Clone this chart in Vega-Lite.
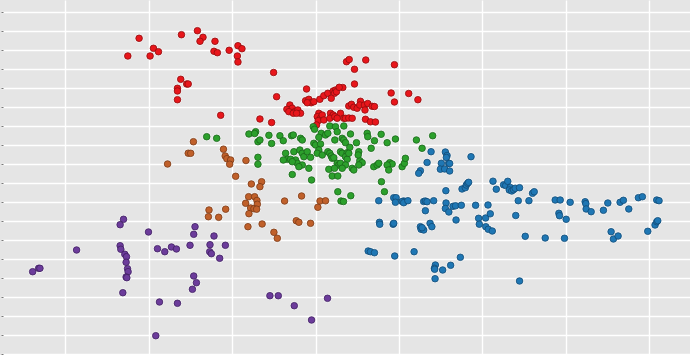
{
"$schema":"https://vega.github.io/schema/vega-lite/v6.json",
"width":690,"height":355,"padding":0,
"autosize":{"type":"fit","contains":"padding"},
"background":"#E5E5E5",
"config":{"view":{"stroke":null,"fill":"#E5E5E5"}},
"data":{"values":[
{"g":"A","x":138.3,"y":38.3},{"g":"A","x":180.7,"y":34.7},{"g":"A","x":196.7,"y":30.7},{"g":"A","x":202.3,"y":37.3},{"g":"A","x":199.3,"y":41.3},{"g":"A","x":214.3,"y":41.3},{"g":"A","x":152.7,"y":48.3},{"g":"A","x":157.7,"y":51.7},{"g":"A","x":127,"y":56},{"g":"A","x":149.3,"y":56},{"g":"A","x":213.3,"y":51.3},{"g":"A","x":216.7,"y":52.7},{"g":"A","x":228.5,"y":50.3},{"g":"A","x":237.3,"y":45.7},{"g":"A","x":241.3,"y":48.7},{"g":"A","x":236.7,"y":56},{"g":"A","x":237.3,"y":62},{"g":"A","x":180,"y":79.3},{"g":"A","x":186,"y":84},{"g":"A","x":187.5,"y":84},{"g":"A","x":176.7,"y":88.3},{"g":"A","x":176.7,"y":91},{"g":"A","x":176.7,"y":99.7},{"g":"A","x":220,"y":115.3},{"g":"A","x":273,"y":72.5},{"g":"A","x":276,"y":96.7},{"g":"A","x":259.3,"y":119},{"g":"A","x":271,"y":122.5},{"g":"A","x":306,"y":89},{"g":"A","x":346,"y":61.7},{"g":"A","x":348.7,"y":59.5},{"g":"A","x":365.3,"y":60},{"g":"A","x":354,"y":69.3},{"g":"A","x":394,"y":64.7},{"g":"A","x":354,"y":84},{"g":"A","x":342.3,"y":87.5},{"g":"A","x":390.7,"y":93},{"g":"A","x":394,"y":102},{"g":"A","x":408.3,"y":93.5},{"g":"A","x":417.5,"y":99.7},
{"g":"A","x":289.3,"y":105},{"g":"A","x":286.3,"y":109.3},{"g":"A","x":291.7,"y":108.3},{"g":"A","x":294.3,"y":111.7},{"g":"A","x":297.3,"y":110},{"g":"A","x":300,"y":113.3},{"g":"A","x":288.3,"y":111.7},{"g":"A","x":292.7,"y":113.3},{"g":"A","x":296,"y":113.3},
{"g":"A","x":305,"y":100.7},{"g":"A","x":308.3,"y":99.3},{"g":"A","x":310.7,"y":102.7},{"g":"A","x":306.7,"y":102.7},{"g":"A","x":313.3,"y":101.7},{"g":"A","x":319.3,"y":99.3},{"g":"A","x":323.3,"y":95.7},{"g":"A","x":327.3,"y":93.3},{"g":"A","x":332.7,"y":91},{"g":"A","x":335,"y":90},{"g":"A","x":334,"y":93.3},{"g":"A","x":336,"y":91.7},{"g":"A","x":330.7,"y":98.3},{"g":"A","x":338.7,"y":87.3},
{"g":"A","x":318.3,"y":113.3},{"g":"A","x":316.7,"y":116.7},{"g":"A","x":320,"y":118.3},{"g":"A","x":317.7,"y":120.7},{"g":"A","x":321.7,"y":115},{"g":"A","x":316,"y":125},{"g":"A","x":323.3,"y":120},{"g":"A","x":330,"y":113.3},{"g":"A","x":332.7,"y":115},{"g":"A","x":329.3,"y":118.3},{"g":"A","x":334.3,"y":116.7},{"g":"A","x":340,"y":113.3},{"g":"A","x":336.7,"y":118.3},{"g":"A","x":343.3,"y":118.3},
{"g":"A","x":348.3,"y":106},{"g":"A","x":351,"y":104.3},{"g":"A","x":353.3,"y":107.3},{"g":"A","x":356.7,"y":108.3},{"g":"A","x":360,"y":101.3},{"g":"A","x":359.3,"y":105},{"g":"A","x":364,"y":105},{"g":"A","x":367.3,"y":103.5},{"g":"A","x":371.7,"y":106.3},{"g":"A","x":374,"y":106.5},{"g":"A","x":364.5,"y":110},{"g":"A","x":345,"y":118.3},{"g":"A","x":348.3,"y":118},{"g":"A","x":351.7,"y":118.3},{"g":"A","x":365,"y":119.3},{"g":"A","x":370,"y":121.8},{"g":"A","x":375,"y":122},
{"g":"B","x":206,"y":136.7},{"g":"B","x":216,"y":138.3},{"g":"B","x":248.3,"y":134},{"g":"B","x":255,"y":131.7},{"g":"B","x":254,"y":133.5},{"g":"B","x":257.3,"y":141.7},{"g":"B","x":259.3,"y":140},{"g":"B","x":268.3,"y":135.3},{"g":"B","x":271,"y":143.5},{"g":"B","x":279.3,"y":135.7},{"g":"B","x":282.7,"y":140.7},{"g":"B","x":291,"y":135.7},{"g":"B","x":292.7,"y":135},{"g":"B","x":300,"y":138.3},{"g":"B","x":301.7,"y":140},
{"g":"B","x":312.7,"y":126.7},{"g":"B","x":314,"y":129.3},{"g":"B","x":320.7,"y":133.3},{"g":"B","x":329.3,"y":126},{"g":"B","x":335,"y":126.7},{"g":"B","x":325,"y":135},{"g":"B","x":327.3,"y":133.3},{"g":"B","x":318.3,"y":137.3},{"g":"B","x":336.7,"y":131.7},{"g":"B","x":343.3,"y":126},{"g":"B","x":341.7,"y":138.3},{"g":"B","x":343.3,"y":140},{"g":"B","x":334.3,"y":140},
{"g":"B","x":313.3,"y":143.3},{"g":"B","x":315,"y":145},{"g":"B","x":320,"y":144},{"g":"B","x":318.3,"y":150},{"g":"B","x":316.7,"y":153.3},{"g":"B","x":321.7,"y":155},{"g":"B","x":327.3,"y":151.7},{"g":"B","x":329.3,"y":153.3},{"g":"B","x":330.7,"y":156},{"g":"B","x":340,"y":151.7},{"g":"B","x":341.7,"y":153.3},{"g":"B","x":346.7,"y":152.7},{"g":"B","x":331.7,"y":158.3},{"g":"B","x":333.3,"y":157.7},{"g":"B","x":328.3,"y":169.3},{"g":"B","x":336.7,"y":163.3},{"g":"B","x":338.3,"y":165},{"g":"B","x":340,"y":163.3},{"g":"B","x":334,"y":168.3},{"g":"B","x":331.7,"y":176},{"g":"B","x":337.3,"y":176},{"g":"B","x":345,"y":156.7},{"g":"B","x":346.7,"y":159.3},
{"g":"B","x":285,"y":153.3},{"g":"B","x":286.7,"y":159.3},{"g":"B","x":282.7,"y":160},{"g":"B","x":293.3,"y":151.7},{"g":"B","x":295,"y":160},{"g":"B","x":296.7,"y":163.3},{"g":"B","x":290,"y":159.3},{"g":"B","x":291.7,"y":161.7},{"g":"B","x":299.3,"y":150},{"g":"B","x":301.7,"y":153.3},{"g":"B","x":303.3,"y":156.7},{"g":"B","x":306.7,"y":151.7},{"g":"B","x":310,"y":157.3},{"g":"B","x":301.7,"y":165},{"g":"B","x":298.3,"y":166.7},{"g":"B","x":308.3,"y":168.3},{"g":"B","x":291.7,"y":174.5},{"g":"B","x":311,"y":180},
{"g":"B","x":257.3,"y":157.3},{"g":"B","x":257.3,"y":164.2},{"g":"B","x":337.3,"y":191.7},{"g":"B","x":340.5,"y":201},{"g":"B","x":343,"y":201.5},{"g":"B","x":350.3,"y":195.7},
{"g":"B","x":345,"y":142.7},{"g":"B","x":350,"y":134},{"g":"B","x":356,"y":142.7},{"g":"B","x":349.3,"y":147.3},{"g":"B","x":348.3,"y":153.3},{"g":"B","x":358.3,"y":151.7},{"g":"B","x":366.7,"y":133.3},{"g":"B","x":367.3,"y":136.7},{"g":"B","x":374,"y":140.7},{"g":"B","x":380.7,"y":134.3},{"g":"B","x":386.7,"y":142.7},{"g":"B","x":395,"y":139},{"g":"B","x":370.7,"y":148.3},{"g":"B","x":359.3,"y":160.7},{"g":"B","x":361.7,"y":162.7},{"g":"B","x":358.3,"y":165},{"g":"B","x":351.7,"y":168.3},{"g":"B","x":353.3,"y":170},{"g":"B","x":345,"y":165},{"g":"B","x":341.7,"y":168.3},{"g":"B","x":373.3,"y":166.7},{"g":"B","x":376.7,"y":165},{"g":"B","x":378.3,"y":163.3},{"g":"B","x":389.3,"y":162.7},{"g":"B","x":391.7,"y":164},{"g":"B","x":386.7,"y":165},{"g":"B","x":388.3,"y":170},{"g":"B","x":401.7,"y":166.7},{"g":"B","x":404,"y":163.3},{"g":"B","x":405,"y":158.3},{"g":"B","x":416,"y":140},{"g":"B","x":421.7,"y":148.3},{"g":"B","x":432.3,"y":135.7},{"g":"B","x":381,"y":181.7},{"g":"B","x":384,"y":191.7},{"g":"B","x":357.7,"y":155},
{"g":"C","x":192.7,"y":141.7},{"g":"C","x":187.5,"y":153.2},{"g":"C","x":190,"y":153.3},{"g":"C","x":166.8,"y":164},{"g":"C","x":222.8,"y":149.2},{"g":"C","x":224.5,"y":156},{"g":"C","x":226.2,"y":158.7},{"g":"C","x":230,"y":160},{"g":"C","x":229,"y":164.2},{"g":"C","x":235,"y":176.3},{"g":"C","x":245.3,"y":160.5},{"g":"C","x":250.7,"y":184},{"g":"C","x":261,"y":181.7},{"g":"C","x":259.3,"y":186.7},{"g":"C","x":248,"y":196.7},{"g":"C","x":254,"y":196.7},{"g":"C","x":245,"y":203.3},{"g":"C","x":256.3,"y":200.5},{"g":"C","x":256.7,"y":204.3},{"g":"C","x":250,"y":208},{"g":"C","x":253.3,"y":208.7},{"g":"C","x":256,"y":209.2},{"g":"C","x":248.3,"y":213.7},{"g":"C","x":208.3,"y":210},{"g":"C","x":225,"y":209.2},{"g":"C","x":207.7,"y":216.7},{"g":"C","x":218,"y":217.3},{"g":"C","x":247.3,"y":226.7},{"g":"C","x":261.5,"y":224},{"g":"C","x":284,"y":201},{"g":"C","x":301,"y":196},{"g":"C","x":317.3,"y":207.3},{"g":"C","x":319.5,"y":201},{"g":"C","x":325,"y":200.8},{"g":"C","x":295.7,"y":220.7},{"g":"C","x":298.3,"y":222.3},{"g":"C","x":310,"y":223.3},{"g":"C","x":273.3,"y":232.3},{"g":"C","x":276.7,"y":238.3},
{"g":"D","x":31.7,"y":271.7},{"g":"D","x":37.7,"y":268.3},{"g":"D","x":39,"y":268.3},{"g":"D","x":75.7,"y":250},{"g":"D","x":122.7,"y":219.3},{"g":"D","x":119.3,"y":224.7},{"g":"D","x":119.3,"y":245.7},{"g":"D","x":120,"y":249.3},{"g":"D","x":124,"y":254.3},{"g":"D","x":125.7,"y":256.7},{"g":"D","x":125.3,"y":262.3},{"g":"D","x":126.7,"y":268.7},{"g":"D","x":127.3,"y":271.7},{"g":"D","x":125.3,"y":277},{"g":"D","x":126,"y":277.7},{"g":"D","x":122,"y":292.7},{"g":"D","x":147.7,"y":232},{"g":"D","x":156.7,"y":248.7},{"g":"D","x":164,"y":251.7},{"g":"D","x":170.7,"y":247},{"g":"D","x":175.7,"y":249},{"g":"D","x":189.3,"y":245.3},{"g":"D","x":194.3,"y":226.7},{"g":"D","x":193,"y":234.3},{"g":"D","x":213.3,"y":236},{"g":"D","x":209.3,"y":244.7},{"g":"D","x":224.7,"y":245.3},{"g":"D","x":209,"y":251.7},{"g":"D","x":210.7,"y":253.7},{"g":"D","x":219,"y":258.3},{"g":"D","x":193,"y":276},{"g":"D","x":195.7,"y":282.7},{"g":"D","x":191.7,"y":289.3},{"g":"D","x":158.7,"y":302},{"g":"D","x":176.7,"y":303.3},{"g":"D","x":155,"y":335.7},{"g":"D","x":269.3,"y":295.7},{"g":"D","x":277.7,"y":295.7},{"g":"D","x":293.7,"y":305.7},{"g":"D","x":327,"y":298.3},{"g":"D","x":311,"y":320},
{"g":"E","x":430.7,"y":151.7},{"g":"E","x":445,"y":152},{"g":"E","x":446.7,"y":155.5},{"g":"E","x":446,"y":157.5},{"g":"E","x":470.7,"y":156.7},{"g":"E","x":426.7,"y":162.5},{"g":"E","x":441,"y":163.3},{"g":"E","x":448.3,"y":163.3},{"g":"E","x":449.3,"y":163.5},{"g":"E","x":420,"y":170.7},{"g":"E","x":418.3,"y":173.3},{"g":"E","x":440,"y":169.2},{"g":"E","x":444.3,"y":169},{"g":"E","x":449.3,"y":171},
{"g":"E","x":378.3,"y":200.7},{"g":"E","x":393.3,"y":197.7},{"g":"E","x":395.7,"y":197.7},{"g":"E","x":395,"y":202.3},{"g":"E","x":403.3,"y":201},{"g":"E","x":401.7,"y":201.5},{"g":"E","x":403.3,"y":202.7},{"g":"E","x":407.5,"y":200.7},{"g":"E","x":423.3,"y":201.5},{"g":"E","x":425,"y":201},{"g":"E","x":426.7,"y":201.7},{"g":"E","x":433.3,"y":200.7},{"g":"E","x":445.5,"y":190.7},{"g":"E","x":445.7,"y":203},{"g":"E","x":445,"y":208.5},{"g":"E","x":448.5,"y":212},{"g":"E","x":452.7,"y":206.3},{"g":"E","x":455.2,"y":205.8},{"g":"E","x":461,"y":205.3},{"g":"E","x":425,"y":210.7},{"g":"E","x":455.7,"y":220},
{"g":"E","x":379,"y":222.3},{"g":"E","x":379.3,"y":224.3},{"g":"E","x":392.7,"y":224.3},{"g":"E","x":393.3,"y":223.3},{"g":"E","x":420,"y":226.7},{"g":"E","x":420.7,"y":229.3},{"g":"E","x":423.3,"y":230},{"g":"E","x":421.7,"y":227.7},{"g":"E","x":429.7,"y":223.3},{"g":"E","x":431.5,"y":226.7},
{"g":"E","x":367.7,"y":251},{"g":"E","x":370,"y":251.7},{"g":"E","x":374,"y":252.7},{"g":"E","x":394.3,"y":256},{"g":"E","x":413.7,"y":251.7},{"g":"E","x":435,"y":265},{"g":"E","x":434,"y":268.3},{"g":"E","x":434.3,"y":269.3},{"g":"E","x":442.3,"y":270},{"g":"E","x":450.3,"y":265.3},{"g":"E","x":434.7,"y":278.7},{"g":"E","x":460,"y":257.3},
{"g":"E","x":461.7,"y":189},{"g":"E","x":465,"y":187.7},{"g":"E","x":466,"y":185},{"g":"E","x":467.3,"y":183.3},{"g":"E","x":468.3,"y":182.3},{"g":"E","x":492.7,"y":181.2},{"g":"E","x":496,"y":189.2},{"g":"E","x":503.3,"y":184.8},{"g":"E","x":505.5,"y":185.5},{"g":"E","x":507.5,"y":181.3},{"g":"E","x":510,"y":187.5},{"g":"E","x":509,"y":190},{"g":"E","x":511.5,"y":191},{"g":"E","x":513.3,"y":189.7},{"g":"E","x":515,"y":188.3},{"g":"E","x":519.3,"y":187.7},{"g":"E","x":532.3,"y":193.3},{"g":"E","x":534,"y":191.7},
{"g":"E","x":475.3,"y":205.3},{"g":"E","x":487.7,"y":205},{"g":"E","x":478.3,"y":218.3},{"g":"E","x":479,"y":224.2},{"g":"E","x":485.3,"y":218},{"g":"E","x":490,"y":213.8},{"g":"E","x":485.5,"y":226.7},{"g":"E","x":488,"y":229.3},{"g":"E","x":492,"y":231},{"g":"E","x":515.5,"y":215.5},{"g":"E","x":518,"y":200.7},{"g":"E","x":528.7,"y":200.7},{"g":"E","x":525,"y":236.3},{"g":"E","x":545,"y":238},{"g":"E","x":564.3,"y":238.3},{"g":"E","x":519.3,"y":281},
{"g":"E","x":555,"y":200},{"g":"E","x":560,"y":200},{"g":"E","x":570,"y":202.3},{"g":"E","x":558.7,"y":213.3},{"g":"E","x":559.3,"y":215.7},{"g":"E","x":566,"y":219.3},{"g":"E","x":585,"y":201.7},{"g":"E","x":585.7,"y":203.7},{"g":"E","x":586,"y":209},{"g":"E","x":591,"y":211.7},{"g":"E","x":607.7,"y":203},{"g":"E","x":603.3,"y":210.3},{"g":"E","x":620,"y":202.3},{"g":"E","x":623.3,"y":200.3},{"g":"E","x":628.7,"y":209},{"g":"E","x":638.3,"y":197.7},{"g":"E","x":642.3,"y":196.7},{"g":"E","x":656.7,"y":200},{"g":"E","x":659,"y":200.7},{"g":"E","x":611,"y":231.7},{"g":"E","x":613.3,"y":239},{"g":"E","x":618,"y":236},{"g":"E","x":647.7,"y":231.3},{"g":"E","x":655,"y":225},{"g":"E","x":656.7,"y":221.7},{"g":"E","x":657.7,"y":220.7}
]},
"encoding":{
"x":{"field":"x","type":"quantitative","scale":{"domain":[0,690],"nice":false,"zero":false},
"axis":{"title":null,"labels":false,"ticks":false,"domain":false,"grid":true,"gridColor":"#FFFFFF","gridWidth":1.4,"values":[64.5,148,231.5,315,398.5,482,565.5,649]}},
"y":{"field":"y","type":"quantitative","scale":{"domain":[355,0],"nice":false,"zero":false},
"axis":{"title":null,"labels":false,"ticks":true,"tickSize":2,"tickColor":"#777777","offset":-2,"domain":false,"grid":true,"gridColor":"#FFFFFF","gridWidth":1.4,"values":[12.3,31.3,50.2,69.2,88.2,107.2,126.1,145.1,164.1,183,202,221,239.9,258.9,277.9,296.8,315.8,334.8,353.7]}}
},
"layer":[
{"mark":{"type":"circle","size":78,"fill":"#FFFFFF","opacity":0.6}},
{"mark":{"type":"circle","size":44,"opacity":1,"strokeWidth":0.8,"strokeOpacity":1},
"encoding":{
"fill":{"field":"g","type":"nominal","legend":null,"scale":{"domain":["A","B","C","D","E"],"range":["#E8161B","#2CA02C","#C0602A","#6C3C9B","#1F77B4"]}},
"stroke":{"field":"g","type":"nominal","legend":null,"scale":{"domain":["A","B","C","D","E"],"range":["#8E0C0E","#1B641B","#7A3A16","#3F2060","#114A75"]}}
}}
]
}
